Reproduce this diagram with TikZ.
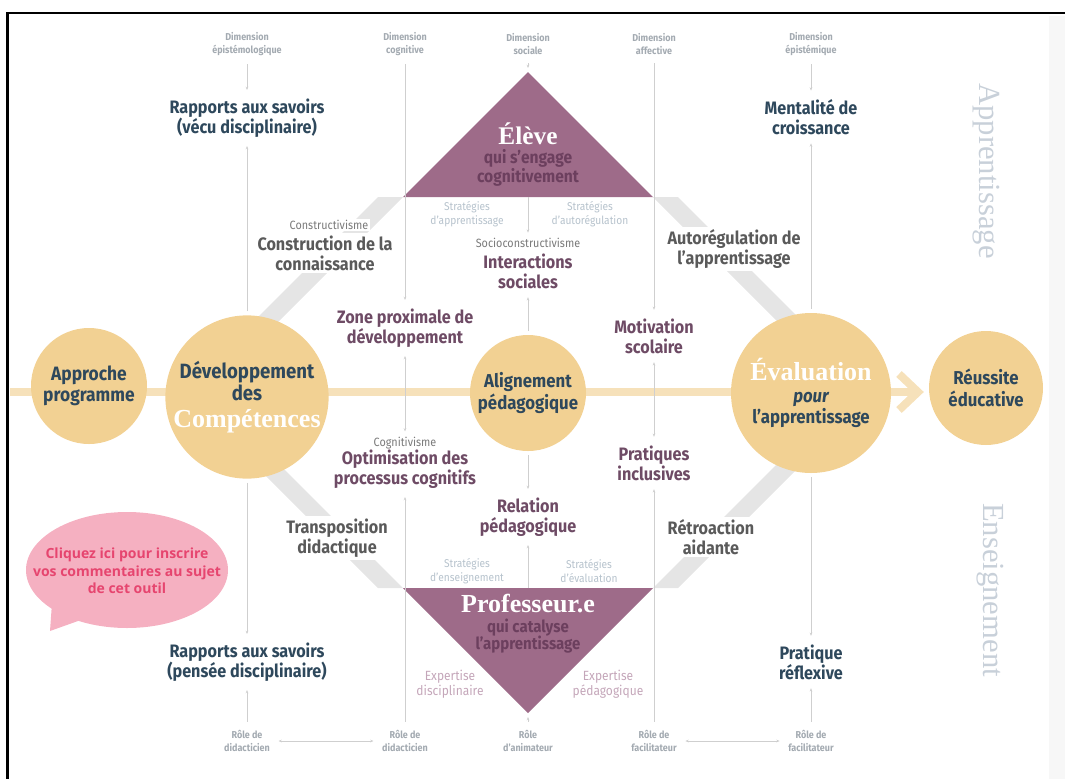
\documentclass[tikz,border=0pt]{standalone}
\usepackage{fontspec}
\setmainfont{Fira Sans}[FakeStretch=0.9]
\newfontfamily\serifx{Liberation Serif}
\newfontfamily\bubblefont{Open Sans}
\usetikzlibrary{arrows.meta,shapes.geometric}

\definecolor{gold}{HTML}{F2D193}
\definecolor{goldband}{HTML}{F6E1BA}
\definecolor{mauve}{HTML}{9E6B89}
\definecolor{mauvedeep}{HTML}{6C3F5E}
\definecolor{mauvetxt}{HTML}{6E4B65}
\definecolor{navy}{HTML}{2E485C}
\definecolor{greytxt}{HTML}{5A5A5A}
\definecolor{theory}{HTML}{7A7A7A}
\definecolor{faint}{HTML}{A3AAB1}
\definecolor{strat}{HTML}{B6C2CC}
\definecolor{expert}{HTML}{C4A6B9}
\definecolor{bandgrey}{HTML}{E5E5E5}
\definecolor{linegrey}{HTML}{CFCFCF}
\definecolor{vertlbl}{HTML}{C8D0D9}
\definecolor{bubble}{HTML}{F5B0C1}
\definecolor{bubbletxt}{HTML}{E6456F}

\begin{document}
\begin{tikzpicture}[x=0.75pt,y=-0.75pt,
	disc/.style={circle, fill=gold, inner sep=0pt, align=center, text=navy,
	font=\fontsize{14}{16}\selectfont\bfseries},
	bigblue/.style={align=center, text=navy, font=\fontsize{13.5}{15}\selectfont\bfseries},
	bigmauve/.style={bigblue, text=mauvetxt},
	biggrey/.style={bigblue, text=greytxt, fill=white, inner sep=2pt},
	faintlbl/.style={align=center, text=faint, font=\fontsize{7.5}{9.5}\selectfont\bfseries},
	stratlbl/.style={align=center, text=strat, font=\fontsize{8.5}{10}\selectfont},
	theorylbl/.style={text=theory, fill=white, inner sep=1pt, font=\fontsize{9}{10}\selectfont},
	expertlbl/.style={align=center, text=expert, font=\fontsize{10}{11.5}\selectfont},
	serifwhite/.style={text=white, font=\serifx\fontsize{19}{20}\selectfont\bfseries},
	subtri/.style={align=center, text=mauvedeep, font=\fontsize{13}{14}\selectfont\bfseries},
	vertword/.style={rotate=-90, text=vertlbl, font=\serifx\fontsize{23}{24}\selectfont},
	vline/.style={draw=linegrey, line width=0.5pt, shorten >=3pt, shorten <=3pt,
	-{Stealth[length=2.5pt,width=2pt]}},
	bothline/.style={vline, {Stealth[length=2.5pt,width=2pt]}-{Stealth[length=2.5pt,width=2pt]}},
	]
	\useasboundingbox (0,0) rectangle (1065,779);
	\fill[black!3] (1049,16) rectangle (1065,779);
	\draw[line width=2.2pt] (7.5,779) -- (7.5,13) -- (1065,13);
	
	% grey diamond
	\fill[bandgrey] (378,197) -- (403,197) -- (233,367) -- (208,367) -- cycle;
	\fill[bandgrey] (653,197) -- (678,197) -- (848,367) -- (823,367) -- cycle;
	\fill[bandgrey] (378,588) -- (403,588) -- (233,418) -- (208,418) -- cycle;
	\fill[bandgrey] (653,588) -- (678,588) -- (848,418) -- (823,418) -- cycle;
	
	% axis
	\coordinate (bandstart) at (10,392);
	\coordinate (tip) at (914,392);
	\draw[goldband, line width=6pt] (bandstart) -- (tip);
	\draw[goldband, line width=6pt] (899,374) -- (918,392) -- (899,410);
	
	% triangles
	\coordinate (eleveTop) at (528,72);
	\coordinate (eleveBase) at (528,197);
	\coordinate (profBase) at (528,588);
	\coordinate (profTip) at (528,713);
	\fill[mauve] (403,197) -- (eleveTop) -- (653,197) -- cycle;
	\fill[mauve] (403,588) -- (653,588) -- (profTip) -- cycle;
	\node[serifwhite] (eleve) at (528,134) {Élève};
	\node[subtri] (eleveSub) at (528,168) {qui s'engage\\cognitivement};
	\node[serifwhite, font=\serifx\fontsize{19.5}{20}\selectfont\bfseries] (prof) at (528,604) {Professeur.e};
	\node[subtri, font=\fontsize{12.5}{13}\selectfont\bfseries] (profSub) at (528,636) {qui catalyse\\l'apprentissage};
	
	% circles
	\node[disc, minimum size=87pt, font=\fontsize{14.5}{16}\selectfont\bfseries] (appr) at (89,386) {Approche\\programme};
	\node[disc, minimum size=118.5pt, font=\fontsize{15.5}{15}\selectfont\bfseries] (dev) at (247,397)
	{Développement\\des\\[5pt]{\serifx\fontsize{19.5}{20}\selectfont\color{white}Compétences}};
	\node[disc, minimum size=87pt] (align) at (528,393) {Alignement\\pédagogique};
	\node[disc, minimum size=120pt] (eval) at (811,393)
	{{\serifx\fontsize{19.5}{20}\selectfont\color{white}Évaluation}\\{\itshape pour}\\l'apprentissage};
	\node[disc, minimum size=85.5pt] (reus) at (986,388) {Réussite\\éducative};
	
	% labels
	\node[faintlbl] (dim1) at (247,44) {Dimension\\épistémologique};
	\node[faintlbl] (dim2) at (405,44) {Dimension\\cognitive};
	\node[faintlbl] (dim3) at (528,44) {Dimension\\sociale};
	\node[faintlbl] (dim4) at (654,44) {Dimension\\affective};
	\node[faintlbl] (dim5) at (811,44) {Dimension\\épistémique};
	
	\node[bigblue] (rapV) at (247,118) {Rapports aux savoirs\\(vécu disciplinaire)};
	\node[bigblue] (ment) at (811,117) {Mentalité de\\croissance};
	
	\node[theorylbl] (theoA) at (329,225) {Constructivisme};
	\node[biggrey] (constr) at (325,253) {Construction de la\\connaissance};
	\node[stratlbl] (stratA) at (467,214) {Stratégies\\d'apprentissage};
	\node[stratlbl] (stratB) at (590,214) {Stratégies\\d'autorégulation};
	\node[theorylbl] (socio) at (528,243) {Socioconstructivisme};
	\node[bigmauve] (inter) at (528,271) {Interactions\\sociales};
	\node[biggrey] (autor) at (734,249) {Autorégulation de\\l'apprentissage};
	\node[bigmauve] (zone) at (405,328) {Zone proximale de\\développement};
	\node[bigmauve] (motiv) at (654,336) {Motivation\\scolaire};
	\node[theorylbl] (theoC) at (405,443) {Cognitivisme};
	\node[bigmauve] (optim) at (405,469) {Optimisation des\\processus cognitifs};
	\node[bigmauve] (inclu) at (654,463) {Pratiques\\inclusives};
	\node[bigmauve] (relat) at (528,517) {Relation\\pédagogique};
	\node[biggrey] (transp) at (337,538) {Transposition\\didactique};
	\node[biggrey] (retro) at (711,537) {Rétroaction\\aidante};
	\node[stratlbl] (stratC) at (467,571) {Stratégies\\d'enseignement};
	\node[stratlbl] (stratD) at (589,571) {Stratégies\\d'évaluation};
	\node[expertlbl] (expA) at (450,684) {Expertise\\disciplinaire};
	\node[expertlbl] (expB) at (608,684) {Expertise\\pédagogique};
	\node[bigblue] (rapP) at (247,662) {Rapports aux savoirs\\(pensée disciplinaire)};
	\node[bigblue] (prat) at (811,662) {Pratique\\réflexive};
	
	\node[faintlbl] (roleA) at (247,741) {Rôle de\\didacticien};
	\node[faintlbl] (roleB) at (405,741) {Rôle de\\didacticien};
	\node[faintlbl] (roleC) at (528,741) {Rôle\\d'animateur};
	\node[faintlbl] (roleD) at (654,741) {Rôle de\\facilitateur};
	\node[faintlbl] (roleE) at (811,741) {Rôle de\\facilitateur};
	
	% comment bubble
	\fill[bubble] (52,603) -- (50,631) -- (92,616) -- cycle;
	\fill[bubble] (127,570) ellipse [x radius=75.75pt, y radius=43.5pt];
	\node[align=center, text=bubbletxt, font=\bubblefont\fontsize{10.5}{13}\selectfont\bfseries]
	(note) at (127,571) {Cliquez ici pour inscrire\\vos commentaires au sujet\\de cet outil};
	
	\node[vertword] (learn) at (986,171) {Apprentissage};
	\node[vertword] (teach) at (990,590) {Enseignement};
	
	% thin guides
	\draw[vline] (dim1) -- (rapV);
	\draw[vline] (dev) -- (rapV);
	\draw[vline] (dev) -- (rapP);
	\draw[vline] (roleA) -- (rapP);
	\draw[vline] (dim2) -- (zone);
	\draw[bothline] (zone) -- (theoC);
	\draw[vline] (roleB) -- (optim);
	\draw[vline] (dim3) -- (eleveTop);
	\draw[vline, shorten <=0pt] (eleveBase) -- (socio);
	\draw[vline] (align) -- (inter);
	\draw[vline] (align) -- (relat);
	\draw[vline, shorten <=0pt] (profBase) -- (relat);
	\draw[vline] (roleC) -- (profTip);
	\draw[vline] (dim4) -- (motiv);
	\draw[bothline] (motiv) -- (inclu);
	\draw[vline] (roleD) -- (inclu);
	\draw[vline] (dim5) -- (ment);
	\draw[vline] (eval) -- (ment);
	\draw[vline] (eval) -- (prat);
	\draw[vline] (roleE) -- (prat);
	\draw[bothline] (roleA) -- (roleB);
	\draw[bothline] (roleD) -- (roleE);
\end{tikzpicture}
\end{document}
